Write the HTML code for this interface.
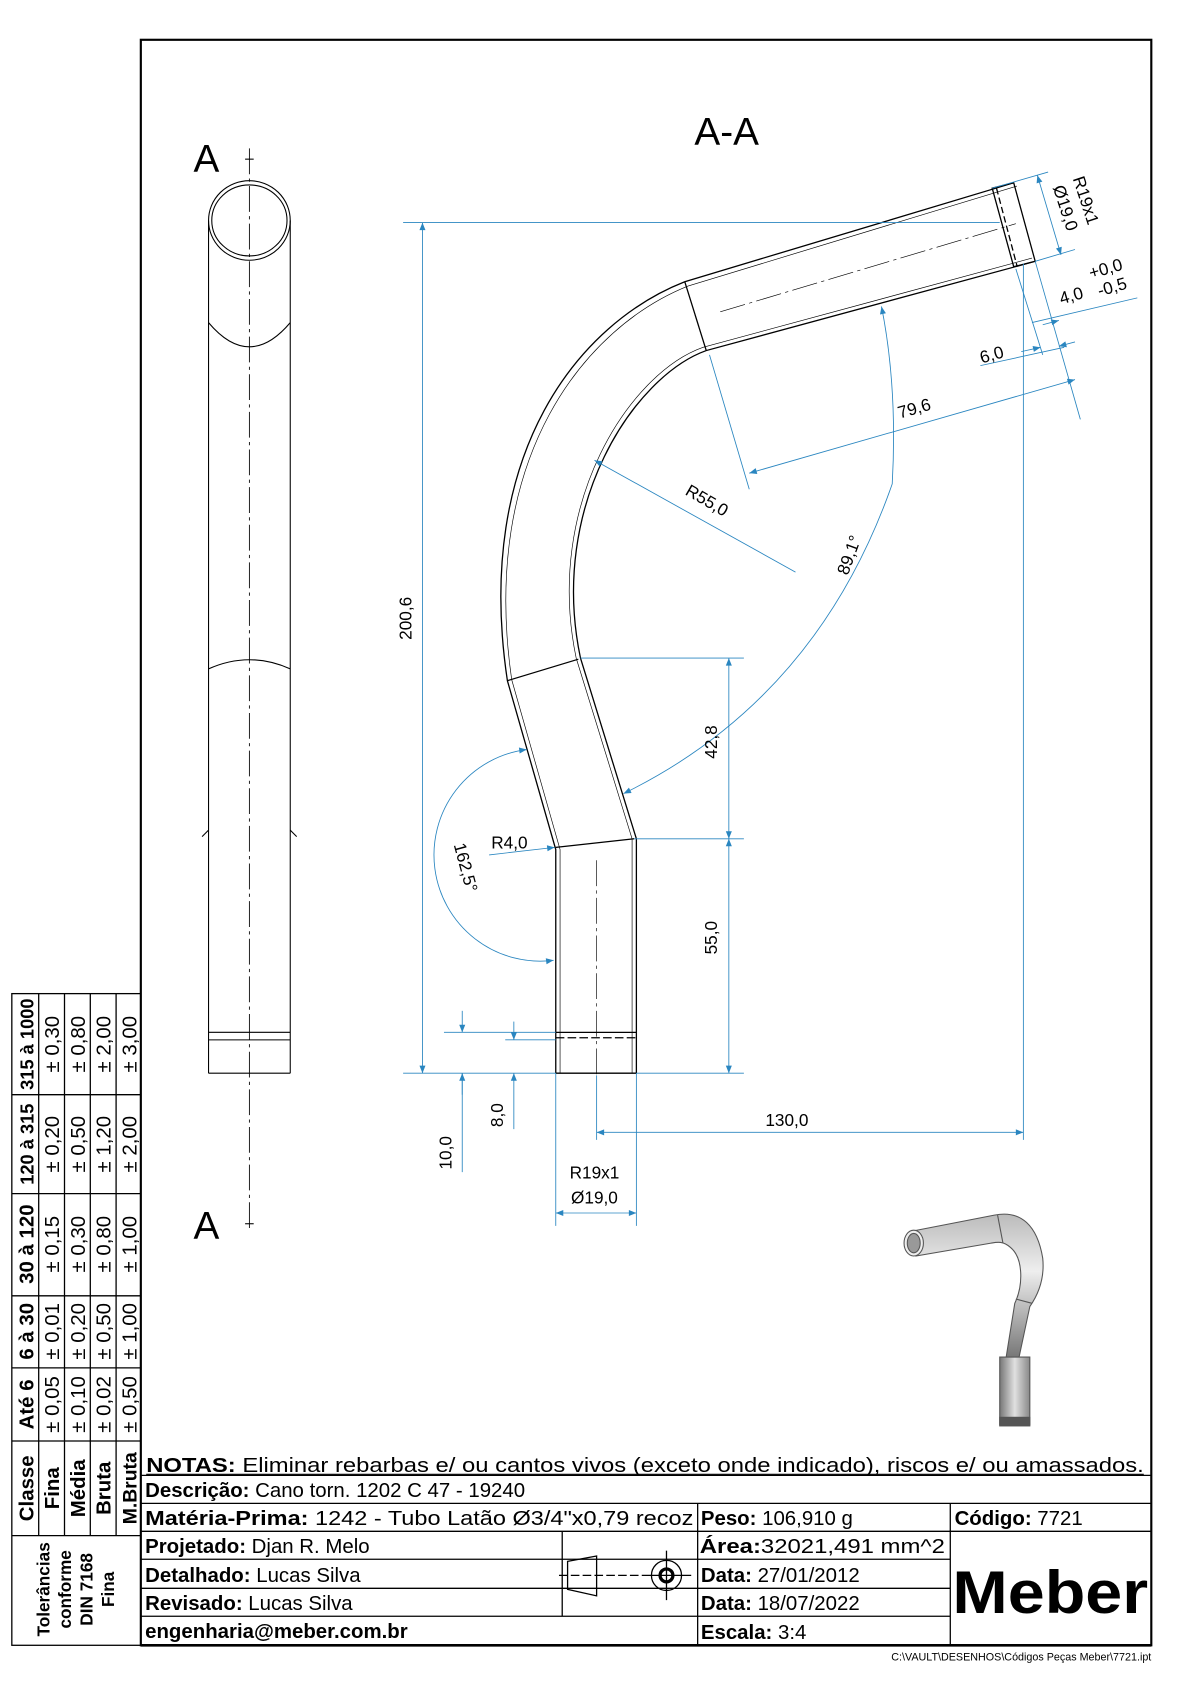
<!DOCTYPE html>
<html><head><meta charset="utf-8"><style>
html,body{margin:0;padding:0;background:#fff}
svg{display:block}
text{font-family:"Liberation Sans",Arial,sans-serif}
</style></head><body>
<svg width="1190" height="1684" viewBox="0 0 1107 1566" preserveAspectRatio="none" xmlns="http://www.w3.org/2000/svg">
<defs>
<marker id="a" viewBox="0 0 10 10" refX="10" refY="5" markerWidth="9" markerHeight="7" orient="auto-start-reverse" markerUnits="userSpaceOnUse"><path d="M0,1 L10,5 L0,9z" fill="#2a86c0"/></marker>
<linearGradient id="g" x1="0" y1="0" x2="1" y2="0"><stop offset="0" stop-color="#777"/><stop offset=".5" stop-color="#e0e0e0"/><stop offset="1" stop-color="#888"/></linearGradient>
<linearGradient id="g2" x1="0" y1="0" x2="0" y2="1"><stop offset="0" stop-color="#bbb"/><stop offset=".4" stop-color="#eee"/><stop offset="1" stop-color="#777"/></linearGradient>
</defs>
<rect x="131" y="37" width="940" height="1493" fill="none" stroke="#000" stroke-width="2"/>

<!-- left tube view -->
<g stroke="#000" fill="none" stroke-width="1">
<line x1="232" y1="138" x2="232" y2="1145" stroke-dasharray="24,4,3,4" stroke-width=".8"/>
<line x1="228" y1="148" x2="236" y2="148"/><line x1="228" y1="1138" x2="236" y2="1138"/>
<ellipse cx="232" cy="205" rx="38" ry="37"/>
<ellipse cx="232" cy="205" rx="35" ry="33"/>
<line x1="194" y1="205" x2="194" y2="998"/><line x1="270" y1="205" x2="270" y2="998"/>
<path d="M194,300 Q232,345 270,300"/>
<path d="M194,622 Q232,605 270,622"/>
<line x1="194" y1="960" x2="270" y2="960"/><line x1="194" y1="967" x2="270" y2="967"/>
<line x1="194" y1="998" x2="270" y2="998"/>
<path d="M188,778 L194,772 M276,778 L270,772"/>
</g>
<text x="180" y="160" font-size="36">A</text>
<text x="180" y="1152" font-size="36">A</text>
<text x="646" y="135" font-size="36">A-A</text>

<!-- bent tube -->
<g stroke="#000" fill="none" stroke-width="1.2">
<path d="M943,170 L637,262 C540,300 440,420 472,633 L517,790 L517,998"/>
<path d="M946,173 L640,266 C545,304 446,424 476,632 L521,790 L521,998" stroke-width=".6"/>
<path d="M963,243 L657,326 C590,350 510,470 540,612 L592,780 L592,998"/>
<path d="M960,240 L654,323 C586,347 506,468 536,612 L588,780 L588,998" stroke-width=".6"/>
<line x1="637" y1="262" x2="657" y2="326"/>
<line x1="472" y1="633" x2="538" y2="613"/>
<line x1="517" y1="788" x2="590" y2="780"/>
<path d="M923,175 L943,170 L963,243 L943,248z"/>
<line x1="927" y1="175" x2="946" y2="247" stroke-dasharray="6,3"/>
<line x1="517" y1="960" x2="592" y2="960"/><line x1="517" y1="965" x2="592" y2="965" stroke-dasharray="8,3"/>
<line x1="517" y1="998" x2="592" y2="998"/>
<line x1="555" y1="800" x2="555" y2="1000" stroke-dasharray="24,4,3,4" stroke-width=".6"/>
<line x1="670" y1="290" x2="945" y2="208" stroke-dasharray="24,4,3,4" stroke-width=".6"/>
</g>

<!-- dimensions -->
<g stroke="#2a86c0" fill="none" stroke-width=".8">
<line x1="375" y1="207" x2="930" y2="207"/><line x1="375" y1="998" x2="517" y2="998"/><line x1="592" y1="998" x2="692" y2="998"/>
<line x1="393" y1="207" x2="393" y2="998" marker-start="url(#a)" marker-end="url(#a)"/>
<line x1="540" y1="612" x2="692" y2="612"/><line x1="590" y1="780" x2="692" y2="780"/>
<line x1="678" y1="612" x2="678" y2="780" marker-start="url(#a)" marker-end="url(#a)"/>
<line x1="678" y1="780" x2="678" y2="998" marker-start="url(#a)" marker-end="url(#a)"/>
<line x1="555" y1="1000" x2="555" y2="1060"/><line x1="952" y1="245" x2="952" y2="1060"/>
<line x1="555" y1="1053" x2="952" y2="1053" marker-start="url(#a)" marker-end="url(#a)"/>
<line x1="517" y1="998" x2="517" y2="1140"/><line x1="592" y1="998" x2="592" y2="1140"/>
<line x1="517" y1="1128" x2="592" y2="1128" marker-start="url(#a)" marker-end="url(#a)"/>
<line x1="413" y1="960" x2="517" y2="960"/><line x1="470" y1="967" x2="517" y2="967"/>
<line x1="430" y1="940" x2="430" y2="960" marker-end="url(#a)"/><line x1="430" y1="1018" x2="430" y2="998" marker-end="url(#a)"/>
<line x1="478" y1="950" x2="478" y2="967" marker-end="url(#a)"/><line x1="478" y1="1050" x2="478" y2="998" marker-end="url(#a)"/>
<line x1="430" y1="998" x2="430" y2="1090"/>
<path d="M515,893 A95,95 0 0 1 490,697" marker-start="url(#a)" marker-end="url(#a)"/>
<line x1="455" y1="795" x2="516" y2="788" marker-end="url(#a)"/>
<path d="M580,738 Q760,650 830,450 Q835,360 820,285" marker-start="url(#a)" marker-end="url(#a)"/>
<line x1="740" y1="532" x2="553" y2="428" marker-end="url(#a)"/>
<line x1="660" y1="330" x2="697" y2="455"/>
<line x1="697" y1="440" x2="1000" y2="353" marker-start="url(#a)" marker-end="url(#a)"/>
<line x1="963" y1="243" x2="1005" y2="390"/>
<line x1="912" y1="340" x2="990" y2="323" /><line x1="950" y1="327" x2="968" y2="323" marker-end="url(#a)"/><line x1="1000" y1="318" x2="985" y2="322" marker-end="url(#a)"/>
<line x1="945" y1="250" x2="970" y2="330"/>
<line x1="960" y1="300" x2="1058" y2="277"/><line x1="970" y1="302" x2="985" y2="298" marker-end="url(#a)"/>
<line x1="923" y1="175" x2="975" y2="160"/><line x1="963" y1="243" x2="1000" y2="232"/>
<line x1="965" y1="163" x2="987" y2="237" marker-start="url(#a)" marker-end="url(#a)"/>
</g>
<g font-size="16" fill="#000">
<text transform="translate(383,575) rotate(-90)" text-anchor="middle">200,6</text>
<text transform="translate(667,690) rotate(-90)" text-anchor="middle">42,8</text>
<text transform="translate(667,872) rotate(-90)" text-anchor="middle">55,0</text>
<text x="732" y="1047" text-anchor="middle">130,0</text>
<text x="553" y="1096" text-anchor="middle">R19x1</text>
<text x="553" y="1119" text-anchor="middle">Ø19,0</text>
<text transform="translate(420,1072) rotate(-90)" text-anchor="middle">10,0</text>
<text transform="translate(468,1037) rotate(-90)" text-anchor="middle">8,0</text>
<text x="457" y="789">R4,0</text>
<text transform="translate(428,808) rotate(75)" text-anchor="middle">162,5°</text>
<text transform="translate(655,470) rotate(30)" text-anchor="middle">R55,0</text>
<text transform="translate(795,518) rotate(-70)" text-anchor="middle">89,1°</text>
<text transform="translate(852,385) rotate(-16)" text-anchor="middle">79,6</text>
<text transform="translate(924,335) rotate(-16)" text-anchor="middle">6,0</text>
<text transform="translate(998,280) rotate(-16)" text-anchor="middle">4,0</text>
<text transform="translate(1030,255) rotate(-16)" text-anchor="middle">+0,0</text>
<text transform="translate(1036,272) rotate(-16)" text-anchor="middle">-0,5</text>
<text transform="translate(1005,188) rotate(72)" text-anchor="middle">R19x1</text>
<text transform="translate(986,195) rotate(72)" text-anchor="middle">Ø19,0</text>
</g>

<!-- 3D iso -->
<g stroke="#555" stroke-width="1">
<path d="M848,1145 L925,1130 C950,1125 965,1140 970,1170 C972,1190 965,1205 958,1215 L948,1262 L936,1262 L944,1212 C952,1195 952,1170 940,1160 C933,1154 928,1155 922,1156 L852,1168z" fill="url(#g2)"/>
<line x1="928" y1="1130" x2="933" y2="1156"/>
<line x1="945" y1="1208" x2="960" y2="1212"/>
<path d="M930,1262 L958,1262 L958,1325 L930,1325z" fill="url(#g)"/>
<rect x="930" y="1318" width="28" height="8" fill="#555"/>
<ellipse cx="850" cy="1156" rx="9" ry="12" fill="#eee"/>
<ellipse cx="850" cy="1156" rx="6" ry="9" fill="#999"/>
</g>

<!-- title block -->
<g stroke="#000" stroke-width="1.2" fill="none">
<line x1="131" y1="1372" x2="1071" y2="1372"/>
<line x1="131" y1="1398" x2="1071" y2="1398"/>
<line x1="131" y1="1424" x2="1071" y2="1424"/>
<line x1="131" y1="1450" x2="649" y2="1450"/><line x1="649" y1="1450" x2="884" y2="1450"/>
<line x1="131" y1="1477" x2="884" y2="1477"/>
<line x1="131" y1="1503" x2="884" y2="1503"/>
<line x1="649" y1="1398" x2="649" y2="1530"/><line x1="884" y1="1398" x2="884" y2="1530"/>
<line x1="523" y1="1424" x2="523" y2="1503"/>
<line x1="131" y1="1530" x2="1071" y2="1530" stroke-width="2.5"/>
<path d="M528,1452 L555,1447 L555,1484 L528,1478z"/>
<line x1="520" y1="1465" x2="600" y2="1465" stroke-dasharray="8,3"/>
<circle cx="620" cy="1465" r="14"/><circle cx="620" cy="1465" r="6" stroke-width="3"/>
<line x1="600" y1="1465" x2="643" y2="1465"/><line x1="620" y1="1442" x2="620" y2="1488"/>
</g>
<g font-size="19" fill="#000">
<text x="136" y="1369" textLength="928" lengthAdjust="spacingAndGlyphs"><tspan font-weight="bold">NOTAS:</tspan> Eliminar rebarbas e/ ou cantos vivos (exceto onde indicado), riscos e/ ou amassados.</text>
<line x1="136" y1="1371" x2="1064" y2="1371" stroke="#000"/>
<text x="135" y="1392"><tspan font-weight="bold">Descrição:</tspan> Cano torn. 1202 C 47 - 19240</text>
<text x="135" y="1418" textLength="510" lengthAdjust="spacingAndGlyphs"><tspan font-weight="bold">Matéria-Prima:</tspan> 1242 - Tubo Latão Ø3/4"x0,79 recoz</text>
<text x="652" y="1418"><tspan font-weight="bold">Peso:</tspan> 106,910 g</text>
<text x="888" y="1418"><tspan font-weight="bold">Código:</tspan> 7721</text>
<text x="135" y="1444"><tspan font-weight="bold">Projetado:</tspan> Djan R. Melo</text>
<text x="135" y="1471"><tspan font-weight="bold">Detalhado:</tspan> Lucas Silva</text>
<text x="135" y="1497"><tspan font-weight="bold">Revisado:</tspan> Lucas Silva</text>
<text x="135" y="1523" font-weight="bold">engenharia@meber.com.br</text>
<text x="651" y="1444" textLength="228" lengthAdjust="spacingAndGlyphs"><tspan font-weight="bold">Área:</tspan>32021,491 mm^2</text>
<text x="652" y="1471"><tspan font-weight="bold">Data:</tspan> 27/01/2012</text>
<text x="652" y="1497"><tspan font-weight="bold">Data:</tspan> 18/07/2022</text>
<text x="652" y="1524"><tspan font-weight="bold">Escala:</tspan> 3:4</text>
<text x="977" y="1500" font-size="56" font-weight="bold" text-anchor="middle" textLength="182" lengthAdjust="spacingAndGlyphs">Meber</text>
<text x="1071" y="1544" font-size="10" text-anchor="end">C:\VAULT\DESENHOS\Códigos Peças Meber\7721.ipt</text>
</g>

<!-- tolerance table -->
<g stroke="#000" stroke-width="1.2" fill="none">
<rect x="11" y="924" width="120" height="606"/>
<line x1="11" y1="1428" x2="131" y2="1428"/>
<line x1="36" y1="924" x2="36" y2="1428"/><line x1="60" y1="924" x2="60" y2="1428"/><line x1="84" y1="924" x2="84" y2="1428"/><line x1="108" y1="924" x2="108" y2="1428"/>
<line x1="11" y1="1018" x2="131" y2="1018"/><line x1="11" y1="1110" x2="131" y2="1110"/><line x1="11" y1="1205" x2="131" y2="1205"/><line x1="11" y1="1272" x2="131" y2="1272"/><line x1="11" y1="1340" x2="131" y2="1340"/>
</g>
<g font-size="19" fill="#000" text-anchor="middle">
<g font-weight="bold">
<text transform="translate(31,971) rotate(-90)" font-size="17">315 à 1000</text>
<text transform="translate(31,1064) rotate(-90)" font-size="17">120 à 315</text>
<text transform="translate(31,1157) rotate(-90)">30 à 120</text>
<text transform="translate(31,1238) rotate(-90)">6 à 30</text>
<text transform="translate(31,1306) rotate(-90)">Até 6</text>
<text transform="translate(31,1384) rotate(-90)">Classe</text>
<text transform="translate(55,1384) rotate(-90)">Fina</text>
<text transform="translate(79,1384) rotate(-90)">Média</text>
<text transform="translate(103,1384) rotate(-90)">Bruta</text>
<text transform="translate(127,1384) rotate(-90)" font-size="18">M.Bruta</text>
<text transform="translate(46,1478) rotate(-90)" font-size="16">Tolerâncias</text>
<text transform="translate(66,1478) rotate(-90)" font-size="16">conforme</text>
<text transform="translate(86,1478) rotate(-90)" font-size="16">DIN 7168</text>
<text transform="translate(106,1478) rotate(-90)" font-size="16">Fina</text>
</g>
<g>
<text transform="translate(55,971) rotate(-90)">± 0,30</text><text transform="translate(79,971) rotate(-90)">± 0,80</text><text transform="translate(103,971) rotate(-90)">± 2,00</text><text transform="translate(127,971) rotate(-90)">± 3,00</text>
<text transform="translate(55,1064) rotate(-90)">± 0,20</text><text transform="translate(79,1064) rotate(-90)">± 0,50</text><text transform="translate(103,1064) rotate(-90)">± 1,20</text><text transform="translate(127,1064) rotate(-90)">± 2,00</text>
<text transform="translate(55,1157) rotate(-90)">± 0,15</text><text transform="translate(79,1157) rotate(-90)">± 0,30</text><text transform="translate(103,1157) rotate(-90)">± 0,80</text><text transform="translate(127,1157) rotate(-90)">± 1,00</text>
<text transform="translate(55,1238) rotate(-90)">± 0,01</text><text transform="translate(79,1238) rotate(-90)">± 0,20</text><text transform="translate(103,1238) rotate(-90)">± 0,50</text><text transform="translate(127,1238) rotate(-90)">± 1,00</text>
<text transform="translate(55,1306) rotate(-90)">± 0,05</text><text transform="translate(79,1306) rotate(-90)">± 0,10</text><text transform="translate(103,1306) rotate(-90)">± 0,02</text><text transform="translate(127,1306) rotate(-90)">± 0,50</text>
</g>
</g>
</svg>
</body></html>
